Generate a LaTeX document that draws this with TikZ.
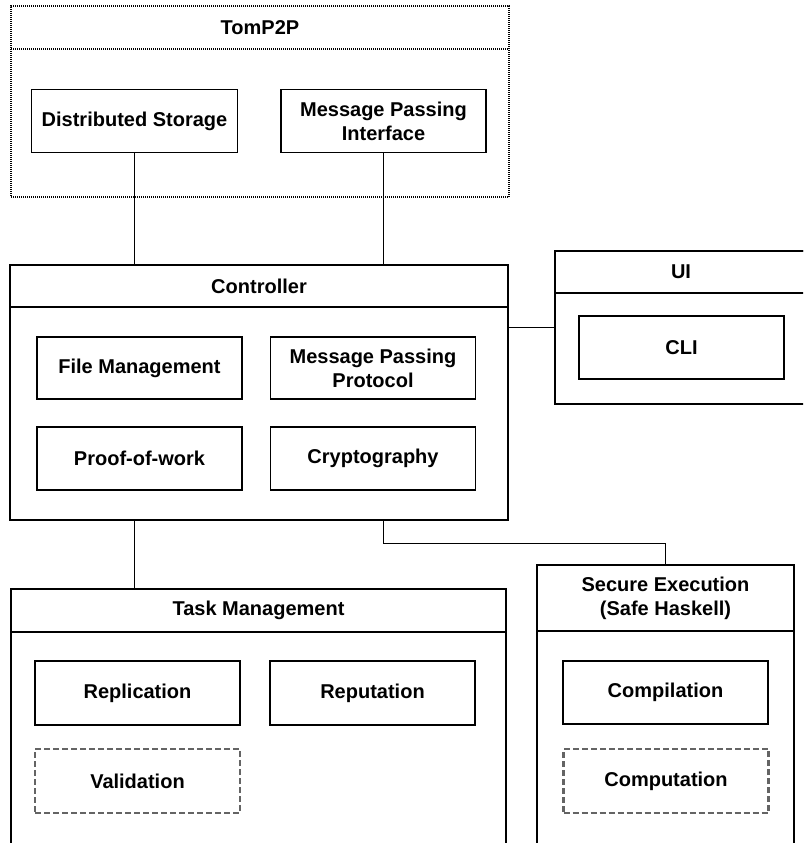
\documentclass[tikz,border=0pt]{standalone}
\usepackage{fontspec}
\setmainfont{Liberation Sans}
\definecolor{dashgray}{RGB}{100,100,100}
\tikzset{
    component/.style={
    rectangle,draw=black,line width=1.6pt,minimum width=205pt,minimum height=63pt,align=center,font=\bfseries\fontsize{20}{24}\selectfont
    },
    dcomponent/.style={
    component,draw=dashgray,line width=2.6pt,dash pattern=on 6pt off 3pt
    },
    container/.style={
    rectangle,draw=black,line width=1.6pt,inner sep=0pt
    },
    dcontainer/.style={
    container,line width=1.2pt,dash pattern=on 1pt off 1pt
    },
    header/.style={
    container,anchor=north,align=center,font=\bfseries\fontsize{20}{24}\selectfont
    },
    link/.style={
    draw=black,line width=1.6pt
    },
}
\begin{document}
\begin{tikzpicture}[x=1pt, y=-1pt]
   \useasboundingbox (0,0) rectangle (803,843);
   \clip (0,0) rectangle (803,843);
   % TomP2P
   \node[dcontainer, minimum width=498pt, minimum height=191pt] (tomp2p) at (260,101.5) {};
   \node[header, dcontainer, minimum width=498pt, minimum height=43pt] (tomp2ph) at (tomp2p.north) {TomP2P};
   \node[component, minimum width=206pt] (dstore) at (134.5,121) {Distributed Storage};
   \node[component] (mpi) at (383.5,121) {Message Passing\\Interface};
   % Controller
   \node[container, minimum width=498pt, minimum height=255pt] (controller) at (259,392.5) {};
   \node[header, minimum width=498pt, minimum height=42pt] (controllerh) at (controller.north) {Controller};
   \node[component, minimum height=62pt] (filemgmt) at (139.5,368) {File Management};
   \node[component, minimum height=62pt] (mpp) at (373,368) {Message Passing\\Protocol};
   \node[component] (pow) at (139.5,458.5) {Proof-of-work};
   \node[component] (crypto) at (373,458.5) {Cryptography};
   % UI
   \node[container, minimum width=252pt, minimum height=153pt] (ui) at (681,327.5) {};
   \node[header, minimum width=252pt, minimum height=42pt] (uih) at (ui.north) {UI};
   \node[component] (cli) at (681.5,347.5) {CLI};
   % Task Management
   \node[container, minimum width=495pt, minimum height=361pt] (task) at (258.5,769.5) {};
   \node[header, minimum width=495pt, minimum height=43pt] (taskh) at (task.north) {Task Management};
   \node[component, minimum height=64pt] (replication) at (137.5,693) {Replication};
   \node[component, minimum height=64pt] (reputation) at (372.5,693) {Reputation};
   \node[dcomponent, minimum height=64pt] (validation) at (137.5,781) {Validation};
   % Secure Execution
   \node[container, minimum width=257pt, minimum height=385pt] (secure) at (665.5,757.5) {};
   \node[header, minimum width=257pt, minimum height=66pt] (secureh) at (secure.north) {Secure Execution\\(Safe Haskell)};
   \node[component] (compilation) at (665.5,692.5) {Compilation};
   \node[dcomponent, minimum height=64pt] (computation) at (666,781) {Computation};

  \path[link]
    (dstore) edge (dstore |- controller.north)
    (mpi) edge (mpi |- controller.north)
    (controller.east |- ui.west) edge (ui.west)
    (dstore |- controller.south) edge (dstore |- task.north);
  \draw[link] (mpi |- controller.south) -- ++(0,22.5) -| (secure.north);
\end{tikzpicture}
\end{document}
